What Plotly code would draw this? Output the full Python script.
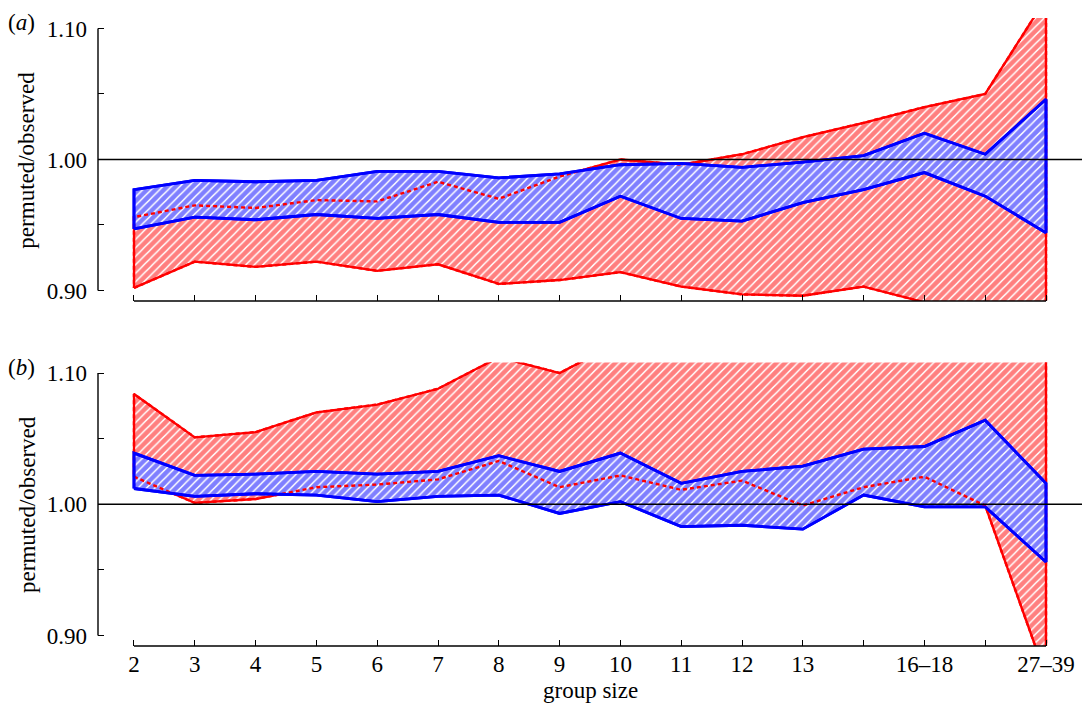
import plotly.graph_objects as go

# categories (group size) – positions 0..15, some unlabeled
group_labels = ["2", "3", "4", "5", "6", "7", "8", "9", "10", "11", "12", "13",
                "", "16–18", "", "27–39"]
xpos = list(range(len(group_labels)))

# panel (a)
a_red_lo = [0.902, 0.922, 0.918, 0.922, 0.915, 0.920, 0.905, 0.908, 0.914, 0.903,
            0.897, 0.896, 0.903, 0.891, 0.885, 0.880]
a_red_hi = [0.956, 0.965, 0.963, 0.969, 0.968, 0.983, 0.970, 0.987, 1.000, 0.996,
            1.004, 1.017, 1.028, 1.040, 1.050, 1.123]
a_blue_lo = [0.947, 0.956, 0.954, 0.958, 0.955, 0.958, 0.952, 0.952, 0.972, 0.955,
             0.953, 0.967, 0.977, 0.990, 0.972, 0.944]
a_blue_hi = [0.977, 0.984, 0.983, 0.984, 0.991, 0.991, 0.986, 0.989, 0.996, 0.997,
             0.994, 0.998, 1.003, 1.020, 1.004, 1.046]

# panel (b)
b_red_lo = [1.021, 1.001, 1.004, 1.013, 1.015, 1.019, 1.033, 1.013, 1.022, 1.011,
            1.018, 0.999, 1.013, 1.021, 0.999, 0.869]
b_red_hi = [1.084, 1.051, 1.055, 1.070, 1.076, 1.088, 1.112, 1.100, 1.124, 1.13,
            1.14, 1.14, 1.15, 1.15, 1.16, 1.16]
b_blue_lo = [1.012, 1.006, 1.008, 1.007, 1.002, 1.006, 1.007, 0.993, 1.002, 0.983,
             0.984, 0.981, 1.007, 0.998, 0.998, 0.956]
b_blue_hi = [1.039, 1.022, 1.023, 1.025, 1.023, 1.025, 1.037, 1.025, 1.039, 1.016,
             1.025, 1.029, 1.042, 1.044, 1.064, 1.016]

y_tickvals = [0.90, 0.95, 1.00, 1.05, 1.10]
y_ticktext = ["0.90", "", "1.00", "", "1.10"]

RED = "#ff0000"
BLUE = "#0000ff"
FONT = "Liberation Serif"

fig = go.Figure()


def polygon(lo, hi):
    xs = xpos + xpos[::-1] + [xpos[0]]
    ys = lo + hi[::-1] + [lo[0]]
    return xs, ys


def band(lo, hi, color, lw, xa, ya):
    xs, ys = polygon(lo, hi)
    return go.Scatter(
        x=xs, y=ys, mode="lines", fill="toself",
        line=dict(color=color, width=lw),
        fillcolor="white",
        fillpattern=dict(shape="/", fgcolor=color, bgcolor="white", size=6, solidity=0.75),
        xaxis=xa, yaxis=ya, showlegend=False, hoverinfo="skip",
    )


def outline(lo, hi, color, lw, xa, ya, dash="solid"):
    xs, ys = polygon(lo, hi)
    return go.Scatter(x=xs, y=ys, mode="lines", line=dict(color=color, width=lw, dash=dash),
                      xaxis=xa, yaxis=ya, showlegend=False, hoverinfo="skip")


for (rl, rh, bl, bh, xa, ya) in [(a_red_lo, a_red_hi, a_blue_lo, a_blue_hi, "x", "y"),
                                 (b_red_lo, b_red_hi, b_blue_lo, b_blue_hi, "x2", "y2")]:
    fig.add_trace(band(rl, rh, RED, 2.3, xa, ya))
    fig.add_trace(band(bl, bh, BLUE, 2.8, xa, ya))
    # red boundaries seen through the blue hatching
    fig.add_trace(outline(rl, rh, RED, 2.4, xa, ya, dash="4px,3px"))
    fig.add_trace(outline(bl, bh, BLUE, 2.8, xa, ya))

xr = [-0.592, 15.592]
yr = [0.892, 1.108]
tick_font = dict(family=FONT, size=23, color="black")

common_x = dict(range=xr, tickvals=xpos, ticks="inside", ticklen=6, tickwidth=1.3,
                tickcolor="black", showgrid=False, zeroline=False, showline=False,
                tickfont=tick_font)
common_y = dict(range=yr, tickvals=y_tickvals, ticktext=y_ticktext, ticks="inside",
                ticklen=6, tickwidth=1.3, tickcolor="black", showgrid=False,
                zeroline=False, showline=False, tickfont=tick_font, ticklabelstandoff=10)

fig.update_layout(
    width=1082, height=706,
    margin=dict(l=98, r=0, t=18, b=60),
    paper_bgcolor="white", plot_bgcolor="white",
    font=dict(family=FONT, size=23, color="black"),
    xaxis=dict(domain=[0, 1], anchor="y", showticklabels=False, **common_x),
    yaxis=dict(domain=[0.5494, 1.0], anchor="x", **common_y),
    xaxis2=dict(domain=[0, 1], anchor="y2", ticktext=group_labels,
                ticklabelstandoff=2, **common_x),
    yaxis2=dict(domain=[0.0, 0.4514], anchor="x2", **common_y),
)

shapes = []
for xa, ya in [("x", "y"), ("x2", "y2")]:
    shapes.append(dict(type="line", xref=xa + " domain", yref=ya, x0=0, x1=0, y0=0.90, y1=1.10,
                       line=dict(color="black", width=1.4), layer="above"))
    shapes.append(dict(type="line", xref=xa, yref=ya + " domain", x0=0, x1=15, y0=0, y1=0,
                       line=dict(color="black", width=1.4), layer="above"))
    shapes.append(dict(type="line", xref=xa + " domain", yref=ya, x0=0, x1=1, y0=1.0, y1=1.0,
                       line=dict(color="black", width=1.4), layer="above"))
fig.update_layout(shapes=shapes)

ann_font = dict(family=FONT, size=23, color="black")
fig.add_annotation(text="(<i>a</i>)", xref="paper", yref="paper", x=-0.078, y=0.9936,
                   xanchor="center", yanchor="middle", showarrow=False, font=ann_font)
fig.add_annotation(text="(<i>b</i>)", xref="paper", yref="paper", x=-0.078, y=0.4427,
                   xanchor="center", yanchor="middle", showarrow=False, font=ann_font)
fig.add_annotation(text="permuted/observed", xref="paper", yref="paper", x=-0.0722, y=0.7744,
                   xanchor="center", yanchor="middle", textangle=-90, showarrow=False,
                   font=ann_font)
fig.add_annotation(text="permuted/observed", xref="paper", yref="paper", x=-0.0722, y=0.2261,
                   xanchor="center", yanchor="middle", textangle=-90, showarrow=False,
                   font=ann_font)
fig.add_annotation(text="group size", xref="paper", yref="paper", x=0.5, y=-0.0701,
                   xanchor="center", yanchor="middle", showarrow=False, font=ann_font)

fig.write_html("out.html", config={"displayModeBar": False},
               post_script="document.body.style.margin='0';document.body.style.overflow='hidden';")
